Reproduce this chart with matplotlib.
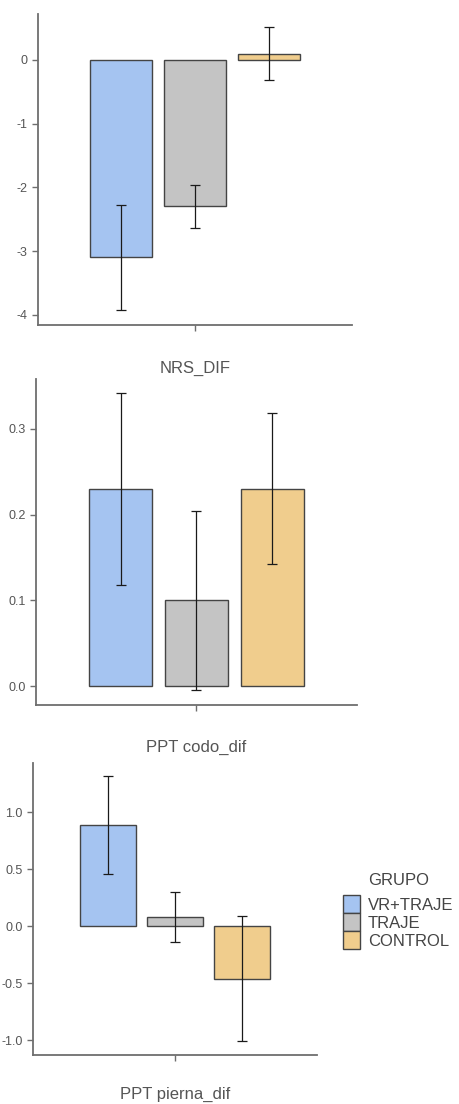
import numpy as np
import matplotlib
matplotlib.use("Agg")
import matplotlib.pyplot as plt
from matplotlib.patches import Patch

plt.rcParams['font.family'] = ['Liberation Sans', 'DejaVu Sans']

groups = ['VR+TRAJE', 'TRAJE', 'CONTROL']
colors = ['#a5c4f1', '#c4c4c4', '#f0cd8d']

panels = ['NRS_DIF', 'PPT codo_dif', 'PPT pierna_dif']
means = [
    [-3.10, -2.30, 0.10],
    [0.23, 0.10, 0.23],
    [0.89, 0.08, -0.46],
]
lower = [
    [-3.93, -2.64, -0.31],
    [0.118, -0.004, 0.142],
    [0.46, -0.14, -1.01],
]
upper = [
    [-2.27, -1.97, 0.51],
    [0.342, 0.204, 0.318],
    [1.32, 0.30, 0.09],
]
yticks = [
    [-4, -3, -2, -1, 0],
    [0.0, 0.1, 0.2, 0.3],
    [-1.0, -0.5, 0.0, 0.5, 1.0],
]
ytick_labels = [
    ['-4', '-3', '-2', '-1', '0'],
    ['0.0', '0.1', '0.2', '0.3'],
    ['-1.0', '-0.5', '0.0', '0.5', '1.0'],
]
ylims = [(-4.16, 0.72), (-0.022, 0.358), (-1.13, 1.43)]

# axes rectangles in figure fraction
W, H = 459, 1104
rects = [
    (38 / W, 1 - 325 / H, 314 / W, 311 / H),
    (36 / W, 1 - 705 / H, 321 / W, 326 / H),
    (33 / W, 1 - 1055 / H, 284 / W, 292 / H),
]
label_y = [-0.141, -0.129, -0.134]

fig = plt.figure(figsize=(W / 100, H / 100), dpi=100)
x = np.array([-1, 0, 1])
spine_col = '#6e6e6e'
text_col = '#555555'

for i in range(3):
    ax = fig.add_axes(rects[i])
    m = np.array(means[i])
    lo = m - np.array(lower[i])
    hi = np.array(upper[i]) - m
    ax.bar(x, m, width=0.83, color=colors, edgecolor='#444444', linewidth=1.0)
    ax.errorbar(x, m, yerr=[lo, hi], fmt='none', ecolor='#1a1a1a',
                elinewidth=0.9, capsize=3.6, capthick=0.9)
    ax.set_xlim(-2.12, 2.12)
    ax.set_ylim(*ylims[i])
    ax.set_xticks([0])
    ax.set_xticklabels([''])
    ax.set_yticks(yticks[i])
    ax.set_yticklabels(ytick_labels[i])
    for s in ['top', 'right']:
        ax.spines[s].set_visible(False)
    for s in ['left', 'bottom']:
        ax.spines[s].set_color(spine_col)
        ax.spines[s].set_linewidth(1.3)
    ax.tick_params(axis='both', colors=spine_col, length=4, width=1.0,
                   labelsize=9, labelcolor=text_col)
    ax.set_xlabel(panels[i], fontsize=12, color=text_col)
    ax.xaxis.set_label_coords(0.5, label_y[i])
    ax.xaxis.label.set_va('center')

handles = [Patch(facecolor=c, edgecolor='#444444', linewidth=1.0) for c in colors]
leg = fig.legend(handles, groups, title='GRUPO', loc='upper left',
                 bbox_to_anchor=(328 / W, 1 - 858 / H), frameon=False,
                 fontsize=12, title_fontsize=12, labelspacing=0.0,
                 handlelength=1.0, handleheight=1.3, handletextpad=0.5)
leg._legend_box.sep = 5
for t in leg.get_texts():
    t.set_color('#444444')
leg.get_title().set_color('#444444')

fig.savefig('out.png', dpi=100)
